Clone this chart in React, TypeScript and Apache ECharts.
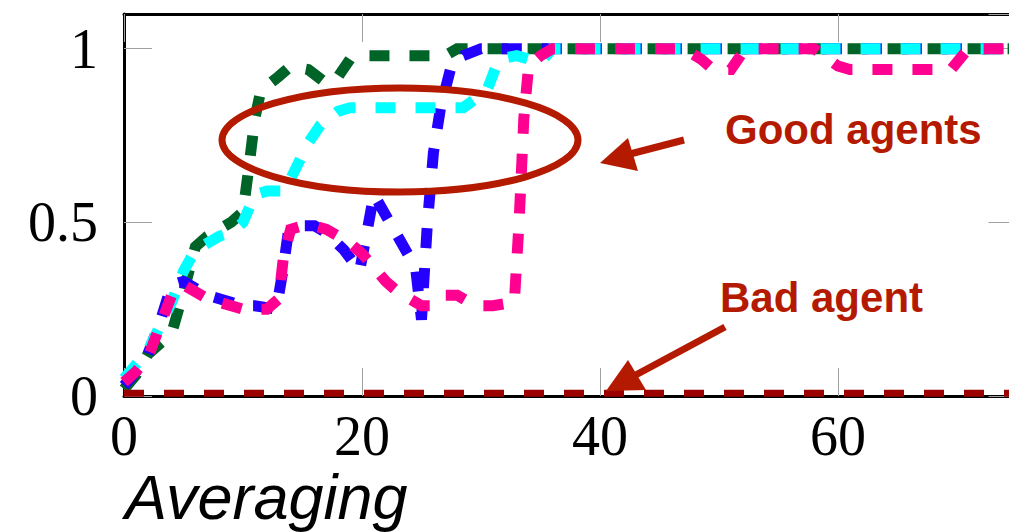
import React, { useEffect, useRef } from "react";
import * as echarts from "echarts";

// ---- data ----
const X_TICKS = [0, 20, 40, 60];
const Y_TICKS = [0, 0.5, 1];

const greenSeries: [number, number][] = [
  [0, 0.02], [1, 0.06], [2, 0.12], [3, 0.15], [4, 0.18], [5, 0.3], [6, 0.43], [7, 0.46],
  [8, 0.48], [9, 0.5], [10, 0.53], [10.5, 0.66], [11, 0.8], [11.5, 0.88], [13, 0.92],
  [14, 0.95], [15.5, 0.94], [17, 0.9], [18, 0.92], [19, 0.97], [20, 0.98], [27, 0.98],
  [28, 1.0], [75, 1.0],
];

const blueSeries: [number, number][] = [
  [0, 0.03], [1, 0.07], [2, 0.12], [3, 0.21], [4, 0.32], [5, 0.33], [6, 0.31], [7, 0.29],
  [8, 0.28], [9, 0.27], [10, 0.26], [11, 0.26], [12.8, 0.25], [13.3, 0.35], [13.8, 0.47],
  [14.5, 0.49], [16, 0.49], [17, 0.47], [18.5, 0.42], [19.8, 0.36], [21, 0.58], [23, 0.46],
  [24.5, 0.37], [25, 0.22], [25.5, 0.5], [26, 0.7], [26.6, 0.83], [27.5, 0.95], [28.5, 0.98],
  [30, 1.0], [75, 1.0],
];

const cyanSeries: [number, number][] = [
  [0, 0.05], [1, 0.09], [2, 0.13], [3, 0.2], [4, 0.27], [5, 0.36], [6, 0.42], [7, 0.44],
  [8, 0.46], [9, 0.47], [10, 0.5], [11, 0.58], [12, 0.59], [13.5, 0.59], [14.5, 0.66],
  [15.5, 0.73], [16.5, 0.78], [18, 0.82], [19, 0.83], [28.5, 0.83], [30.5, 0.88],
  [31.5, 0.97], [33, 0.98], [35, 0.96], [36, 1.0], [75, 1.0],
];

const pinkSeries: [number, number][] = [
  [0, 0.04], [1, 0.07], [2, 0.11], [3, 0.2], [4, 0.29], [5, 0.32], [6, 0.3], [7, 0.28],
  [8, 0.27], [9, 0.26], [10, 0.25], [12, 0.25], [13, 0.28], [13.4, 0.4], [14, 0.48],
  [15, 0.49], [16, 0.49], [17, 0.48], [18, 0.46], [19, 0.44], [20, 0.41], [21, 0.37],
  [22, 0.33], [23, 0.3], [24, 0.28], [25, 0.26], [26, 0.26], [27, 0.29], [28, 0.29],
  [29, 0.27], [30, 0.26], [31, 0.26], [32.8, 0.27], [33.2, 0.5], [33.6, 0.8], [34, 0.95],
  [35, 0.98], [36, 1.0], [47, 1.0], [48.5, 0.97], [49.5, 0.94], [51, 0.94], [52, 0.99],
  [53, 1.0], [58, 1.0], [60, 0.95], [61, 0.94], [69.5, 0.94], [70.7, 0.99], [71.5, 1.0],
  [75, 1.0],
];

const badSeries: [number, number][] = [[0, 0.008], [75, 0.008]];

const ANNOTATIONS = { good: "Good agents", bad: "Bad agent", xName: "Averaging" };

const RED = "#b41a00";

export default function App() {
  const ref = useRef<HTMLDivElement>(null);
  useEffect(() => {
    if (!ref.current) return;
    const chart = echarts.init(ref.current, undefined, { renderer: "svg" });
    const dashed = (name: string, data: [number, number][], color: string, width: number, z: number) => ({
      name,
      type: "line",
      data,
      showSymbol: false,
      symbol: "none",
      z,
      lineStyle: { color, width, type: [20, 20], cap: "butt", join: "miter", miterLimit: 10 },
    });
    const labelFont = { fontFamily: "'Liberation Serif', serif", fontSize: 56, color: "#000" };
    const tickStyle = { show: true, inside: true, length: 28, lineStyle: { color: "#a0a0a0", width: 1 } };
    const axisLine = { show: true, onZero: false, lineStyle: { color: "#000", width: 3 } };
    chart.setOption({
      animation: false,
      grid: { left: 124, right: 13.5, top: 14, bottom: 136 },
      xAxis: [
        {
          type: "value", min: 0, max: 75, interval: 20, position: "bottom",
          axisLine, axisTick: tickStyle, splitLine: { show: false },
          axisLabel: { ...labelFont, margin: 12, showMaxLabel: false,
            formatter: (v: number) => (X_TICKS.includes(v) ? String(v) : "") },
        },
        {
          type: "value", min: 0, max: 75, interval: 20, position: "top",
          axisLine, axisTick: tickStyle, splitLine: { show: false }, axisLabel: { show: false },
        },
      ],
      yAxis: [
        {
          type: "value", min: 0, max: 1.1, interval: 0.5, position: "left",
          axisLine, axisTick: tickStyle, splitLine: { show: false },
          axisLabel: { ...labelFont, margin: 26, showMaxLabel: false,
            formatter: (v: number) => (Y_TICKS.includes(v) ? String(v) : "") },
        },
        {
          type: "value", min: 0, max: 1.1, interval: 0.5, position: "right",
          axisLine, axisTick: tickStyle, splitLine: { show: false }, axisLabel: { show: false },
        },
      ],
      series: [
        dashed("green", greenSeries, "#006428", 11, 2),
        dashed("blue", blueSeries, "#2400ff", 11, 3),
        dashed("cyan", cyanSeries, "#00ffff", 11, 4),
        dashed("pink", pinkSeries, "#ff0090", 11, 5),
        dashed("bad", badSeries, "#9a0000", 7, 6),
      ],
      graphic: [
        { type: "ellipse", shape: { cx: 400, cy: 140, rx: 178, ry: 52 }, style: { fill: "none", stroke: RED, lineWidth: 7 }, z: 10 },
        { type: "line", shape: { x1: 684, y1: 140, x2: 630, y2: 154 }, style: { stroke: RED, lineWidth: 7 }, z: 10 },
        { type: "polygon", shape: { points: [[600, 163], [628, 138], [638, 171]] }, style: { fill: RED }, z: 10 },
        { type: "line", shape: { x1: 725, y1: 327, x2: 632, y2: 377 }, style: { stroke: RED, lineWidth: 7 }, z: 10 },
        { type: "polygon", shape: { points: [[606, 391], [628, 360], [646, 390]] }, style: { fill: RED }, z: 10 },
        { type: "text", x: 725, y: 129, z: 10, style: { text: ANNOTATIONS.good, fill: RED, font: "bold 42px 'Liberation Sans', Arial, sans-serif", verticalAlign: "middle", align: "left" } },
        { type: "text", x: 720, y: 297, z: 10, style: { text: ANNOTATIONS.bad, fill: RED, font: "bold 42px 'Liberation Sans', Arial, sans-serif", verticalAlign: "middle", align: "left" } },
        { type: "text", x: 125, y: 497, z: 10, style: { text: ANNOTATIONS.xName, fill: "#000", font: "italic 63px 'Liberation Sans', Arial, sans-serif", verticalAlign: "middle", align: "left" } },
      ],
    });
    return () => chart.dispose();
  }, []);
  return (
    <div style={{ position: "absolute", left: 0, top: 0, width: 1009, height: 532, overflow: "hidden", background: "#fff" }}>
      <div ref={ref} style={{ width: 1030, height: 532 }} />
    </div>
  );
}
